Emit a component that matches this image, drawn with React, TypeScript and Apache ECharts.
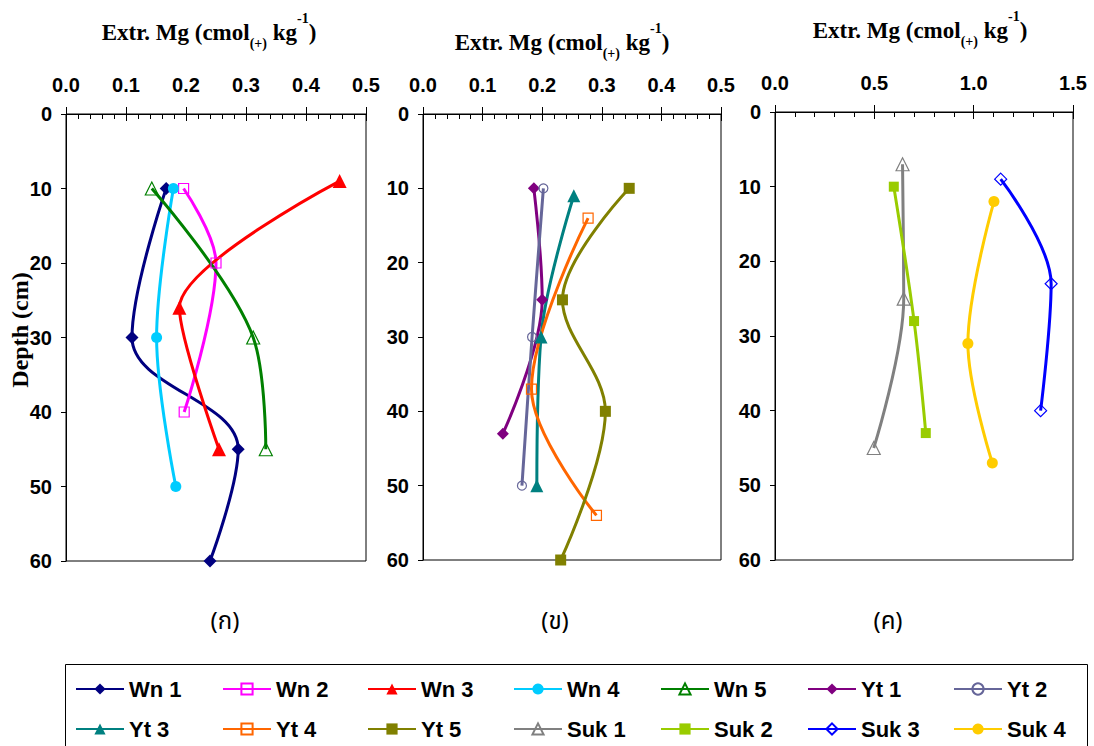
import React, { useEffect, useRef } from 'react';
import * as echarts from 'echarts';

// depth (cm) on y, Extr. Mg on x
const depthTicks = [0, 10, 20, 30, 40, 50, 60];
const wn1 = [[0.167, 10], [0.11, 30], [0.287, 45], [0.24, 60]];
const wn2 = [[0.196, 10], [0.25, 20], [0.197, 40]];
const wn3 = [[0.456, 9], [0.189, 26], [0.255, 45]];
const wn4 = [[0.179, 10], [0.151, 30], [0.183, 50]];
const wn5 = [[0.143, 10], [0.312, 30], [0.333, 45]];
const yt1 = [[0.186, 10], [0.2, 25], [0.134, 43]];
const yt2 = [[0.202, 10], [0.183, 30], [0.166, 50]];
const yt3 = [[0.253, 11], [0.198, 30], [0.191, 50]];
const yt4 = [[0.277, 14], [0.182, 37], [0.291, 54]];
const yt5 = [[0.346, 10], [0.234, 25], [0.306, 40], [0.231, 60]];
const suk1 = [[0.642, 7], [0.648, 25], [0.497, 45]];
const suk2 = [[0.598, 10], [0.7, 28], [0.759, 43]];
const suk3 = [[1.136, 9], [1.39, 23], [1.337, 40]];
const suk4 = [[1.102, 12], [0.971, 31], [1.094, 47]];

const panelMax = [0.5, 0.5, 1.5];
const panelInterval = [0.1, 0.1, 0.5];
const panelLabels = ['(ก)', '(ข)', '(ค)'];
// title pieces: text, font size, vertical offset (sub/superscript)
const titleParts: [string, number, number][] = [
  ['Extr. Mg (cmol', 23, 0],
  ['(+)', 14, 11],
  [' kg', 23, 0],
  ['-1', 14, -14],
  [')', 23, 0],
];
const yName = 'Depth (cm)';

const seriesDefs = [
  { name: 'Wn 1', data: wn1, panel: 0, color: '#000080', symbol: 'diamond', size: 13, open: false, smooth: 0.38 },
  { name: 'Wn 2', data: wn2, panel: 0, color: '#FF00FF', symbol: 'rect', size: 10, open: true, smooth: 0.35 },
  { name: 'Wn 3', data: wn3, panel: 0, color: '#FF0000', symbol: 'triangle', size: 14, open: false, smooth: 0.27 },
  { name: 'Wn 4', data: wn4, panel: 0, color: '#00CCFF', symbol: 'circle', size: 11, open: false, smooth: 0.35 },
  { name: 'Wn 5', data: wn5, panel: 0, color: '#008000', symbol: 'triangle', size: 13, open: true, smooth: 0.35 },
  { name: 'Yt 1', data: yt1, panel: 1, color: '#800080', symbol: 'diamond', size: 12, open: false, smooth: 0.35 },
  { name: 'Yt 2', data: yt2, panel: 1, color: '#666699', symbol: 'circle', size: 9, open: true, smooth: 0.35 },
  { name: 'Yt 3', data: yt3, panel: 1, color: '#008080', symbol: 'triangle', size: 13, open: false, smooth: 0.35 },
  { name: 'Yt 4', data: yt4, panel: 1, color: '#FF6600', symbol: 'rect', size: 10, open: true, smooth: 0.35 },
  { name: 'Yt 5', data: yt5, panel: 1, color: '#808000', symbol: 'rect', size: 11, open: false, smooth: 0.35 },
  { name: 'Suk 1', data: suk1, panel: 2, color: '#808080', symbol: 'triangle', size: 13, open: true, smooth: 0.35 },
  { name: 'Suk 2', data: suk2, panel: 2, color: '#99CC00', symbol: 'rect', size: 10, open: false, smooth: 0.35 },
  { name: 'Suk 3', data: suk3, panel: 2, color: '#0000FF', symbol: 'diamond', size: 12, open: true, smooth: 0.35 },
  { name: 'Suk 4', data: suk4, panel: 2, color: '#FFCC00', symbol: 'circle', size: 11, open: false, smooth: 0.35 },
];

const grids = [
  { left: 66, top: 114, width: 300, height: 447 },
  { left: 423, top: 114, width: 298, height: 446 },
  { left: 775, top: 112, width: 298, height: 448 },
];
const titlePos = [[209, 32], [562, 42], [920, 30]];
const labelPos = [[225, 622], [555, 622], [888, 622]];
const legendCols = [75, 222, 367, 513, 660, 807, 953];
const legendRows = [678, 718];

const SANS = '"Liberation Sans", Arial, sans-serif';
const SERIF = '"Liberation Serif", "Times New Roman", serif';

export default function App() {
  const ref = useRef<HTMLDivElement>(null);
  useEffect(() => {
    document.body.style.margin = '0';
    const chart = echarts.init(ref.current!, null, { renderer: 'svg' });

    const ctx = document.createElement('canvas').getContext('2d')!;
    const measure = (t: string, size: number) => {
      ctx.font = `bold ${size}px "Liberation Serif", "Times New Roman", serif`;
      return ctx.measureText(t).width;
    };

    const xAxis: any[] = [];
    const yAxis: any[] = [];
    grids.forEach((g, i) => {
      xAxis.push({
        gridIndex: i, type: 'value', position: 'top', min: 0, max: panelMax[i], interval: panelInterval[i],
        axisLine: { show: true, onZero: false, lineStyle: { color: '#000', width: 1 } },
        axisTick: { show: true, inside: false, length: 7, lineStyle: { color: '#000' } },
        axisLabel: { show: true, margin: 19, fontFamily: SANS, fontWeight: 'bold', fontSize: 20, color: '#000', formatter: (v: number) => v.toFixed(1) },
        splitLine: { show: false },
      });
      xAxis.push({
        gridIndex: i, type: 'value', position: 'top', min: 0, max: panelMax[i], interval: panelInterval[i],
        axisLine: { show: false },
        axisTick: { show: true, inside: true, length: 7, lineStyle: { color: '#000' } },
        minorTick: { show: true, splitNumber: 5, length: 5, lineStyle: { color: '#000' } },
        axisLabel: { show: false },
        splitLine: { show: false },
      });
      yAxis.push({
        gridIndex: i, type: 'value', inverse: true, min: depthTicks[0], max: depthTicks[depthTicks.length - 1], interval: 10,
        axisLine: { show: true, onZero: false, lineStyle: { color: '#000', width: 1 } },
        axisTick: { show: true, inside: false, length: 5, lineStyle: { color: '#000' } },
        axisLabel: { show: true, margin: 14, fontFamily: SANS, fontWeight: 'bold', fontSize: 20, color: '#000' },
        splitLine: { show: false },
      });
    });

    const series = seriesDefs.map((s) => ({
      name: s.name, type: 'line', xAxisIndex: s.panel * 2, yAxisIndex: s.panel,
      data: s.data, smooth: s.smooth, symbol: s.symbol, symbolSize: s.size,
      lineStyle: { color: s.color, width: 3 },
      itemStyle: s.open
        ? { color: 'rgba(255,255,255,0)', borderColor: s.color, borderWidth: 1.2 }
        : { color: s.color, borderColor: s.color, borderWidth: 0 },
      emphasis: { disabled: true },
      z: 3,
    }));

    const legend = seriesDefs.map((s, i) => ({
      data: [s.name],
      left: legendCols[i % 7], top: legendRows[Math.floor(i / 7)],
      padding: 0, itemWidth: 48, itemHeight: 14, selectedMode: false,
      textStyle: { fontFamily: SANS, fontWeight: 'bold', fontSize: 22, color: '#000' },
    }));

    const graphic: any[] = [];
    const widths = titleParts.map(([t, sz]) => measure(t, sz));
    const total = widths.reduce((a, b) => a + b, 0);
    titlePos.forEach(([cx, cy]) => {
      let x = cx - total / 2;
      titleParts.forEach(([t, sz, dy], k) => {
        graphic.push({
          type: 'text', x, y: cy + dy,
          style: { text: t, align: 'left', verticalAlign: 'middle', fontFamily: SERIF, fontWeight: 'bold', fontSize: sz, fill: '#000' },
        });
        x += widths[k];
      });
    });
    graphic.push({
      type: 'text', x: 20, y: 330, rotation: Math.PI / 2,
      style: { text: yName, align: 'center', verticalAlign: 'middle', fontFamily: SERIF, fontWeight: 'bold', fontSize: 24, fill: '#000' },
    });
    labelPos.forEach(([x, y], i) => {
      graphic.push({ type: 'text', x, y, style: { text: panelLabels[i], align: 'center', verticalAlign: 'middle', fontSize: 24, fontFamily: '"Noto Sans Thai", "Noto Serif Thai", "Tlwg Typo", "Loma", "Garuda", serif', fill: '#000' } });
    });
    graphic.push({ type: 'rect', shape: { x: 65.5, y: 664.5, width: 1022, height: 120 }, style: { fill: 'none', stroke: '#000', lineWidth: 1 } });

    chart.setOption({
      animation: false,
      backgroundColor: '#fff',
      grid: grids.map((g) => ({ ...g, show: true, borderColor: '#000', borderWidth: 1, backgroundColor: 'transparent' })),
      xAxis, yAxis, series, legend, graphic,
    });
    return () => chart.dispose();
  }, []);
  return <div ref={ref} style={{ width: 1094, height: 746 }} />;
}
